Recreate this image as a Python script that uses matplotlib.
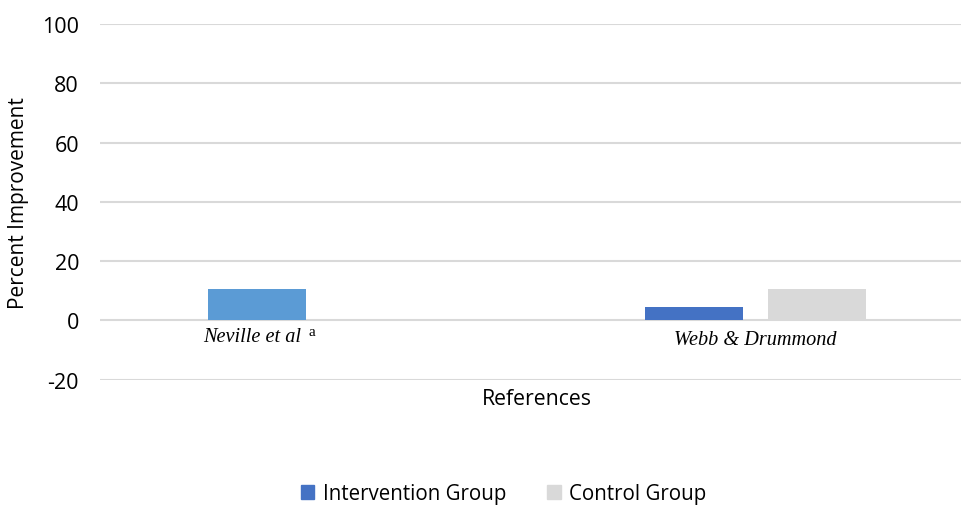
import numpy as np
import matplotlib.pyplot as plt
from matplotlib.patches import Patch

categories = ["Neville et al", "Webb & Drummond"]
intervention = [10.7, 4.6]
control = [np.nan, 10.7]
bar_colors = ["#5B9BD5", "#4472C4"]
yticks = [-20, 0, 20, 40, 60, 80, 100]

plt.rcParams['font.family'] = ['Open Sans', 'DejaVu Sans']

fig = plt.figure(figsize=(9.61, 5.06), dpi=100)
ax = fig.add_axes([0.104, 0.248, 0.9095, 0.7026])

x = np.arange(len(categories))
w = 0.224
off = 0.14
ax.bar(x - off, intervention, width=w, color=bar_colors, zorder=3)
ax.bar(x + off, control, width=w, color="#D9D9D9", zorder=3)

ax.set_xlim(-0.5, 1.5)
ax.set_ylim(-20, 100)
ax.set_yticks(yticks)
ax.set_yticklabels([str(v) for v in yticks], fontsize=15.5)
ax.set_xticks([])
ax.grid(axis="y", color="#D9D9D9", linewidth=1.5, zorder=0)
for s in ax.spines.values():
    s.set_visible(False)
ax.tick_params(axis="y", length=0, pad=15)

ax.set_ylabel("Percent Improvement", fontsize=15)
ax.yaxis.set_label_coords(-0.081, 0.5)
ax.set_xlabel("References", fontsize=15.3, labelpad=6)

serif = dict(family="Liberation Serif", style="italic", fontsize=14.6, va="center")
ax.text(x[0] - 0.152, -5.6, categories[0], ha="center", **serif)
ax.text(x[0] - 0.015, -3.9, "a", ha="center", family="Liberation Serif",
        fontsize=11, va="center")
ax.text(x[1] + 0.0, -6.5, categories[1], ha="center", **serif)

handles = [Patch(color="#4472C4", label="Intervention Group"),
           Patch(color="#D9D9D9", label="Control Group")]
fig.legend(handles=handles, loc="center", bbox_to_anchor=(0.524, 0.022),
           ncol=2, frameon=False, fontsize=14.8, handlelength=0.65,
           handleheight=0.65, handletextpad=0.4, columnspacing=2.0)

fig.savefig("out.png", dpi=100)
